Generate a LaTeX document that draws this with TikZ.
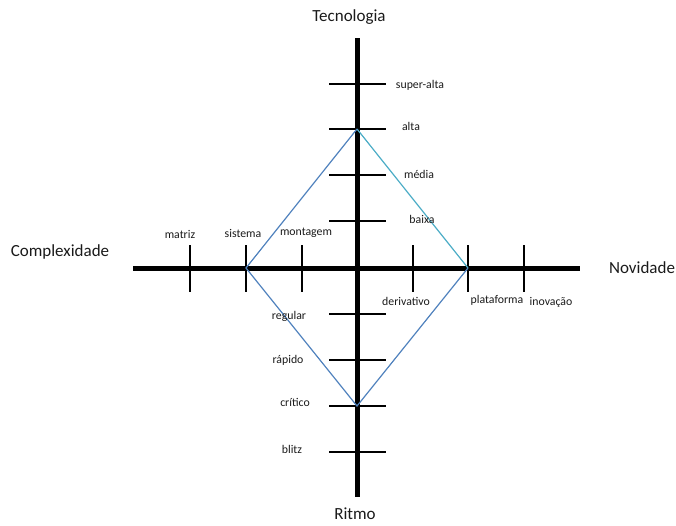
\documentclass[tikz,border=0pt]{standalone}
\usepackage{fontspec}
\setmainfont{Carlito}
\definecolor{lineblue}{HTML}{4F81BD}
\definecolor{linecyan}{HTML}{4BACC6}
\definecolor{txt}{HTML}{1A1A1A}
\begin{document}
\begin{tikzpicture}[x=1pt,y=-1pt,
  axis/.style={line width=5pt, black},
  tick/.style={line width=1.8pt, black},
  lbl/.style={font=\fontsize{11.8}{14}\selectfont, text=txt, inner sep=0pt},
  big/.style={font=\fontsize{17}{20}\selectfont, text=txt, inner sep=0pt},
  diag/.style={line width=1.2pt, lineblue}]
\useasboundingbox (0,0) rectangle (676,525);
% axes
\coordinate (vt) at (357,38);
\coordinate (vb) at (357,497);
\coordinate (hl) at (133,268);
\coordinate (hr) at (580,268);
\draw[axis] (vt) -- (vb);
\draw[axis] (hl) -- (hr);
% vertical ticks
\foreach \n/\y in {sa/84, al/129, me/175, ba/221, re/314, ra/360, cr/406, bl/452}{
  \coordinate (\n L) at (329,\y);
  \coordinate (\n R) at (386,\y);
  \draw[tick] (\n L) -- (\n R);
}
% horizontal ticks
\foreach \n/\x in {ma/190, si/246, mo/302, de/413, pl/468, in/524}{
  \coordinate (\n T) at (\x,245);
  \coordinate (\n B) at (\x,292);
  \draw[tick] (\n T) -- (\n B);
}
% diamond
\coordinate (top) at (357,129);
\coordinate (rt) at (468,268);
\coordinate (bot) at (357,406);
\coordinate (lf) at (246,268);
\draw[diag, linecyan] (top) -- (rt);
\draw[diag] (rt) -- (bot) -- (lf) -- (top);
% labels
\node[lbl] (tsa) at (420,85) {super-alta};
\node[lbl] (tal) at (411,126) {alta};
\node[lbl] (tme) at (419,174) {média};
\node[lbl] (tba) at (422,219) {baixa};
\node[lbl] (tma) at (180,234) {matriz};
\node[lbl] (tsi) at (243,233) {sistema};
\node[lbl] (tmo) at (306,233) {montagem};
\node[lbl] (tde) at (406,301) {derivativo};
\node[lbl] (tpl) at (497,300) {plataforma};
\node[lbl] (tin) at (551,302) {inovação};
\node[lbl] (tre) at (289,316) {regular};
\node[lbl] (tra) at (288,360) {rápido};
\node[lbl] (tcr) at (295,402) {crítico};
\node[lbl] (tbl) at (292,449) {blitz};
\node[big] (ttec) at (349,17) {Tecnologia};
\node[big] (tcom) at (60,252) {Complexidade};
\node[big] (tnov) at (642,268) {Novidade};
\node[big] (trit) at (355,514) {Ritmo};
\end{tikzpicture}
\end{document}
